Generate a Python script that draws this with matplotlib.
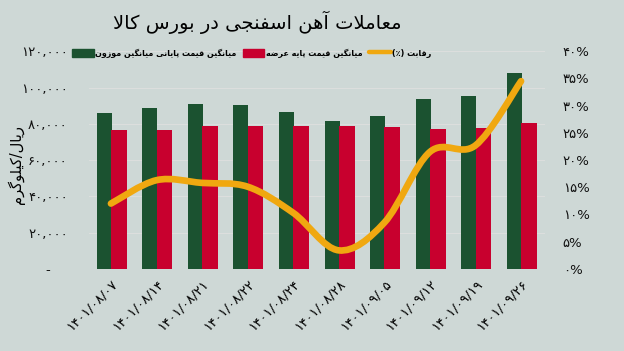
"""Spongy iron trades on the commodity exchange: prices and competition."""
import matplotlib

matplotlib.use("Agg")
import matplotlib.pyplot as plt
import numpy as np
from matplotlib.lines import Line2D
from matplotlib.patches import Patch, PathPatch
from matplotlib.path import Path
from matplotlib.ticker import FuncFormatter, MultipleLocator

dates = [
    "1401/08/07", "1401/08/14", "1401/08/21", "1401/08/22", "1401/08/24",
    "1401/08/28", "1401/09/05", "1401/09/12", "1401/09/19", "1401/09/26",
]
final_price = [85900, 88500, 90900, 90100, 86300, 81300, 84100, 93400, 95100, 107800]
base_price = [76500, 76500, 78700, 78700, 78700, 78600, 78000, 76900, 77500, 80200]
competition = [12.0, 16.3, 15.8, 15.1, 10.3, 3.4, 8.5, 21.5, 22.7, 34.5]

title = "معاملات آهن اسفنجی در بورس کالا"
label_final = "میانگین قیمت پایانی میانگین موزون"
label_base = "میانگین قیمت پایه عرضه"
label_comp = "رقابت (٪)"
unit_label = "ریال/کیلوگرم"

BG = "#CED8D6"
GREEN = "#1B5230"
RED = "#C8002E"
ORANGE = "#F0A810"

# presentation forms: (isolated, final, initial, medial)
FORMS = {
    "ا": ("\uFE8D", "\uFE8E"),
    "آ": ("\uFE81", "\uFE82"),
    "د": ("\uFEA9", "\uFEAA"),
    "ر": ("\uFEAD", "\uFEAE"),
    "ز": ("\uFEAF", "\uFEB0"),
    "و": ("\uFEED", "\uFEEE"),
    "لا": ("\uFEFB", "\uFEFC"),
    "لآ": ("\uFEF5", "\uFEF6"),
    "ب": ("\uFE8F", "\uFE90", "\uFE91", "\uFE92"),
    "ت": ("\uFE95", "\uFE96", "\uFE97", "\uFE98"),
    "ج": ("\uFE9D", "\uFE9E", "\uFE9F", "\uFEA0"),
    "س": ("\uFEB1", "\uFEB2", "\uFEB3", "\uFEB4"),
    "ض": ("\uFEBD", "\uFEBE", "\uFEBF", "\uFEC0"),
    "ع": ("\uFEC9", "\uFECA", "\uFECB", "\uFECC"),
    "ف": ("\uFED1", "\uFED2", "\uFED3", "\uFED4"),
    "ق": ("\uFED5", "\uFED6", "\uFED7", "\uFED8"),
    "ل": ("\uFEDD", "\uFEDE", "\uFEDF", "\uFEE0"),
    "م": ("\uFEE1", "\uFEE2", "\uFEE3", "\uFEE4"),
    "ن": ("\uFEE5", "\uFEE6", "\uFEE7", "\uFEE8"),
    "ه": ("\uFEE9", "\uFEEA", "\uFEEB", "\uFEEC"),
    "پ": ("\uFB56", "\uFB57", "\uFB58", "\uFB59"),
    "ک": ("\uFB8E", "\uFB8F", "\uFB90", "\uFB91"),
    "گ": ("\uFB92", "\uFB93", "\uFB94", "\uFB95"),
    "ی": ("\uFBFC", "\uFBFD", "\uFBFE", "\uFBFF"),
}


def fa(text):
    """Join Persian letters and flip to visual order (matplotlib has no shaping)."""
    units, i = [], 0
    while i < len(text):
        if text[i] == "ل" and i + 1 < len(text) and text[i + 1] in "اآ":
            units.append(text[i:i + 2])
            i += 2
        else:
            units.append(text[i])
            i += 1

    def dual(u):
        return u in FORMS and len(FORMS[u]) == 4

    out = []
    for k, u in enumerate(units):
        if u not in FORMS:
            out.append(u)
            continue
        prev_joins = k > 0 and dual(units[k - 1])
        next_joins = dual(u) and k + 1 < len(units) and units[k + 1] in FORMS
        f = FORMS[u]
        if prev_joins and next_joins:
            out.append(f[3])
        elif prev_joins:
            out.append(f[1])
        elif next_joins:
            out.append(f[2])
        else:
            out.append(f[0])
    return "".join(out)[::-1].translate(str.maketrans("()", ")("))


def fa_digits(s):
    return s.translate(str.maketrans("0123456789", "۰۱۲۳۴۵۶۷۸۹"))


plt.rcParams["font.family"] = ["DejaVu Sans"]

fig = plt.figure(figsize=(6.24, 3.51), dpi=100, facecolor=BG)
ax = fig.add_axes([0.142, 0.234, 0.731, 0.62])
ax.set_facecolor(BG)
x = np.arange(len(dates))

ax.bar(x - 0.147, final_price, width=0.33, color=GREEN, zorder=2)
ax.bar(x + 0.175, base_price, width=0.345, color=RED, zorder=3)

ax.set_xlim(-0.49, 9.52)
ax.set_ylim(0, 120000)
ax.yaxis.set_major_locator(MultipleLocator(20000))
ax.yaxis.set_major_formatter(
    FuncFormatter(lambda v, p: "-    " if v == 0 else fa_digits(f"{v:,.0f}"))
)
ax.grid(axis="y", color="#DCDEDD", linewidth=0.8, zorder=0)
for s in ax.spines.values():
    s.set_visible(False)
ax.tick_params(axis="y", length=0, pad=15, labelsize=9.5, labelcolor="#111111")
ax.tick_params(axis="x", length=0, pad=6)
ax.set_xticks(x)
ax.set_xticklabels(
    [fa_digits(d) for d in dates],
    rotation=45, ha="right", va="top", rotation_mode="anchor", fontsize=9.5,
)

ax2 = ax.twinx()
ax2.set_ylim(0, 40)
ax2.yaxis.set_major_locator(MultipleLocator(5))
ax2.yaxis.set_major_formatter(FuncFormatter(lambda v, p: fa_digits(f"{v:.0f}") + "%"))
ax2.tick_params(axis="y", length=0, pad=13, labelsize=9.5, labelcolor="#111111")
for s in ax2.spines.values():
    s.set_visible(False)

# smoothed line, Excel style bezier through the data points
pts = np.column_stack([x, competition]).astype(float)
verts, codes = [tuple(pts[0])], [Path.MOVETO]
n = len(pts)
for i in range(n - 1):
    p0 = pts[max(i - 1, 0)]
    p1, p2 = pts[i], pts[i + 1]
    p3 = pts[min(i + 2, n - 1)]
    verts += [tuple(p1 + (p2 - p0) / 6), tuple(p2 - (p3 - p1) / 6), tuple(p2)]
    codes += [Path.CURVE4] * 3
ax2.add_patch(
    PathPatch(Path(verts, codes), fill=False, edgecolor=ORANGE, linewidth=4.8,
              capstyle="round", joinstyle="round", zorder=4)
)

fig.text(0.412, 0.937, fa(title), ha="center", va="center", fontsize=14)
fig.text(0.026, 0.53, fa(unit_label), rotation=90, ha="center", va="center",
         fontsize=10.5)

handles = [
    Patch(color=GREEN),
    Patch(color=RED),
    Line2D([], [], color=ORANGE, linewidth=3.2, solid_capstyle="round"),
]
fig.legend(
    handles, [fa(label_final), fa(label_base), fa(label_comp)],
    loc="center", bbox_to_anchor=(0.403, 0.849), ncol=3, frameon=False,
    prop={"size": 5.8, "weight": "bold"}, handlelength=2.7, handleheight=1.1,
    handletextpad=0.15, columnspacing=0.8, borderpad=0.2,
)

fig.savefig("out.png", dpi=100, facecolor=BG)
